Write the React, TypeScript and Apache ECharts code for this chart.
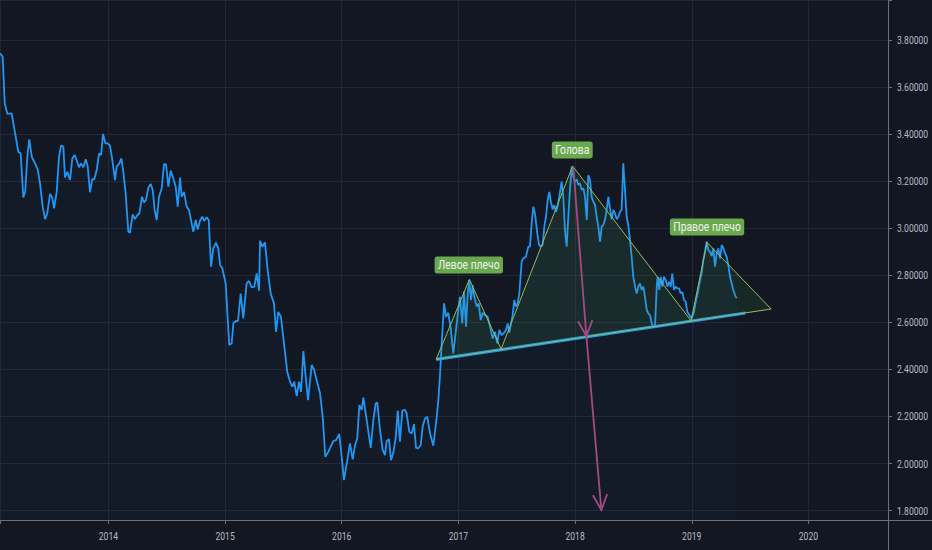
import React, { useEffect, useRef } from "react";
import * as echarts from "echarts";

// Weekly closing prices (decimal year, price)
const dates = [
  2013.071, 2013.094, 2013.111, 2013.134, 2013.171, 2013.2, 2013.228, 2013.248, 2013.271, 2013.288,
  2013.305, 2013.322, 2013.343, 2013.371, 2013.394, 2013.414, 2013.437, 2013.457, 2013.476, 2013.5,
  2013.519, 2013.534, 2013.557, 2013.577, 2013.594, 2013.614, 2013.628, 2013.648, 2013.671, 2013.691,
  2013.711, 2013.728, 2013.748, 2013.765, 2013.785, 2013.806, 2013.823, 2013.842, 2013.862, 2013.879,
  2013.9, 2013.92, 2013.937, 2013.954, 2013.974, 2013.994, 2014.014, 2014.034, 2014.057, 2014.071,
  2014.094, 2014.111, 2014.128, 2014.148, 2014.171, 2014.185, 2014.208, 2014.228, 2014.248, 2014.265,
  2014.288, 2014.305, 2014.322, 2014.342, 2014.363, 2014.38, 2014.397, 2014.414, 2014.434, 2014.457,
  2014.477, 2014.494, 2014.514, 2014.534, 2014.556, 2014.577, 2014.594, 2014.614, 2014.628, 2014.648,
  2014.671, 2014.691, 2014.711, 2014.728, 2014.748, 2014.765, 2014.785, 2014.805, 2014.822, 2014.843,
  2014.86, 2014.88, 2014.899, 2014.922, 2014.942, 2014.957, 2014.976, 2014.999, 2015.005, 2015.036,
  2015.057, 2015.071, 2015.094, 2015.111, 2015.134, 2015.156, 2015.185, 2015.205, 2015.228, 2015.251,
  2015.271, 2015.291, 2015.3, 2015.319, 2015.342, 2015.357, 2015.365, 2015.391, 2015.419, 2015.437,
  2015.456, 2015.479, 2015.505, 2015.533, 2015.557, 2015.576, 2015.593, 2015.614, 2015.634, 2015.651,
  2015.671, 2015.691, 2015.711, 2015.743, 2015.762, 2015.785, 2015.814, 2015.837, 2015.859, 2015.885,
  2015.905, 2015.928, 2015.951, 2015.979, 2016.0, 2016.019, 2016.043, 2016.071, 2016.094, 2016.114,
  2016.133, 2016.151, 2016.171, 2016.185, 2016.214, 2016.248, 2016.271, 2016.291, 2016.305, 2016.328,
  2016.351, 2016.371, 2016.385, 2016.405, 2016.422, 2016.442, 2016.463, 2016.48, 2016.499, 2016.519,
  2016.542, 2016.557, 2016.579, 2016.6, 2016.619, 2016.637, 2016.656, 2016.677, 2016.694, 2016.714,
  2016.733, 2016.757, 2016.785, 2016.814, 2016.828, 2016.842, 2016.857, 2016.877, 2016.894, 2016.913,
  2016.934, 2016.956, 2016.979, 2016.999, 2017.013, 2017.033, 2017.048, 2017.065, 2017.08, 2017.093,
  2017.108, 2017.122, 2017.136, 2017.157, 2017.174, 2017.191, 2017.208, 2017.228, 2017.251, 2017.271,
  2017.294, 2017.314, 2017.333, 2017.351, 2017.371, 2017.391, 2017.408, 2017.422, 2017.436, 2017.451,
  2017.465, 2017.479, 2017.493, 2017.508, 2017.522, 2017.542, 2017.556, 2017.579, 2017.599, 2017.613,
  2017.628, 2017.642, 2017.656, 2017.676, 2017.691, 2017.705, 2017.722, 2017.736, 2017.751, 2017.765,
  2017.779, 2017.793, 2017.808, 2017.822, 2017.836, 2017.851, 2017.871, 2017.885, 2017.899, 2017.913,
  2017.928, 2017.942, 2017.956, 2017.971, 2017.985, 2017.999, 2018.014, 2018.028, 2018.042, 2018.057,
  2018.071, 2018.085, 2018.1, 2018.113, 2018.128, 2018.142, 2018.156, 2018.171, 2018.185, 2018.199,
  2018.214, 2018.228, 2018.242, 2018.256, 2018.271, 2018.285, 2018.299, 2018.314, 2018.328, 2018.342,
  2018.357, 2018.371, 2018.385, 2018.399, 2018.413, 2018.428, 2018.442, 2018.456, 2018.471, 2018.485,
  2018.499, 2018.514, 2018.528, 2018.542, 2018.556, 2018.571, 2018.585, 2018.599, 2018.614, 2018.628,
  2018.642, 2018.657, 2018.671, 2018.685, 2018.7, 2018.708, 2018.722, 2018.734, 2018.748, 2018.762,
  2018.777, 2018.791, 2018.805, 2018.82, 2018.833, 2018.848, 2018.862, 2018.876, 2018.891, 2018.905,
  2018.919, 2018.934, 2018.948, 2018.962, 2018.979, 2018.999, 2019.019, 2019.037, 2019.056, 2019.071,
  2019.085, 2019.099, 2019.113, 2019.128, 2019.142, 2019.156, 2019.171, 2019.185, 2019.199, 2019.214,
  2019.228, 2019.242, 2019.257, 2019.271, 2019.285, 2019.299, 2019.313, 2019.328, 2019.342, 2019.356,
  2019.371, 2019.385,
];

const prices = [
  3.743, 3.729, 3.532, 3.486, 3.488, 3.405, 3.325, 3.318, 3.131, 3.16,
  3.304, 3.378, 3.304, 3.276, 3.25, 3.191, 3.092, 3.039, 3.063, 3.146,
  3.131, 3.085, 3.155, 3.304, 3.352, 3.347, 3.216, 3.24, 3.205, 3.297,
  3.311, 3.29, 3.259, 3.276, 3.259, 3.293, 3.262, 3.153, 3.209, 3.208,
  3.248, 3.318, 3.311, 3.401, 3.361, 3.361, 3.351, 3.29, 3.205, 3.262,
  3.276, 3.297, 3.24, 3.148, 2.985, 2.981, 3.059, 3.039, 3.056, 3.062,
  3.134, 3.11, 3.12, 3.172, 3.188, 3.163, 3.075, 3.035, 3.134, 3.17,
  3.273, 3.272, 3.177, 3.245, 3.212, 3.177, 3.092, 3.215, 3.134, 3.155,
  3.092, 3.078, 3.028, 2.985, 3.035, 2.995, 3.032, 3.049, 3.032, 3.047,
  3.035, 2.837, 2.915, 2.939, 2.915, 2.844, 2.83, 2.78, 2.766, 2.504,
  2.511, 2.596, 2.606, 2.607, 2.723, 2.617, 2.766, 2.776, 2.749, 2.752,
  2.808, 2.735, 2.947, 2.922, 2.94, 2.865, 2.823, 2.723, 2.681, 2.56,
  2.645, 2.624, 2.511, 2.39, 2.348, 2.327, 2.348, 2.287, 2.348, 2.305,
  2.478, 2.369, 2.27, 2.419, 2.4, 2.355, 2.298, 2.199, 2.029, 2.05,
  2.072, 2.096, 2.1, 2.126, 2.029, 1.93, 2.001, 2.086, 2.018, 2.079,
  2.107, 2.249, 2.228, 2.281, 2.185, 2.067, 2.185, 2.256, 2.26, 2.143,
  2.058, 2.036, 2.096, 2.104, 2.015, 2.046, 2.114, 2.225, 2.093, 2.225,
  2.228, 2.213, 2.135, 2.128, 2.168, 2.067, 2.065, 2.079, 2.16, 2.192,
  2.199, 2.128, 2.076, 2.199, 2.27, 2.376, 2.512, 2.681, 2.624, 2.641,
  2.575, 2.468, 2.567, 2.653, 2.709, 2.596, 2.73, 2.582, 2.723, 2.78,
  2.695, 2.759, 2.709, 2.667, 2.681, 2.61, 2.641, 2.631, 2.624, 2.582,
  2.532, 2.56, 2.511, 2.568, 2.546, 2.556, 2.568, 2.596, 2.556, 2.596,
  2.631, 2.695, 2.667, 2.681, 2.723, 2.858, 2.872, 2.879, 2.922, 2.922,
  3.021, 3.092, 3.063, 2.978, 2.929, 2.922, 2.929, 3.007, 3.049, 3.12,
  3.155, 3.113, 3.08, 3.099, 3.07, 3.095, 3.155, 3.198, 3.134, 2.993,
  2.922, 3.049, 3.163, 3.262, 3.219, 3.198, 3.208, 3.184, 3.191, 3.163,
  3.17, 3.134, 3.035, 3.226, 3.205, 3.134, 3.113, 3.099, 3.049, 3.007,
  2.943, 3.007, 3.014, 3.035, 3.078, 3.134, 3.085, 3.038, 3.078, 3.063,
  3.038, 3.049, 3.07, 3.078, 3.276, 3.163, 3.049, 3.014, 2.95, 2.879,
  2.794, 2.752, 2.723, 2.752, 2.766, 2.738, 2.752, 2.709, 2.653, 2.638,
  2.631, 2.596, 2.582, 2.582, 2.752, 2.794, 2.738, 2.794, 2.752, 2.794,
  2.78, 2.752, 2.773, 2.752, 2.808, 2.738, 2.752, 2.745, 2.745, 2.723,
  2.73, 2.695, 2.688, 2.645, 2.631, 2.617, 2.645, 2.695, 2.738, 2.78,
  2.808, 2.865, 2.9, 2.943, 2.908, 2.9, 2.882, 2.915, 2.837, 2.894,
  2.915, 2.872, 2.929, 2.915, 2.893, 2.879, 2.844, 2.794, 2.766, 2.738,
  2.716, 2.702,
];

// Axis tick labels
const yTicks = [1.8, 2.0, 2.2, 2.4, 2.6, 2.8, 3.0, 3.2, 3.4, 3.6, 3.8];
const xTicks = [2014, 2015, 2016, 2017, 2018, 2019, 2020];

// Head & shoulders pattern outline
const patternDates = [2016.809, 2017.094, 2017.366, 2017.979, 2018.994, 2019.131, 2019.68];
const patternValues = [2.443, 2.783, 2.487, 3.2645, 2.607, 2.94, 2.657];

// Neckline
const necklineDates = [2016.809, 2019.46];
const necklineValues = [2.443, 2.64];

// Target projection arrow
const arrowDates = [2017.985, 2018.097, 2018.225];
const arrowValues = [3.26, 2.542, 1.803];

// Pattern labels
const labelNames = ["Левое плечо", "Голова", "Правое плечо"];
const labelDates = [2017.089, 2017.976, 2019.131];
const labelValues = [2.844, 3.3325, 3.005];

const X_MIN = 2013.071;
const X_MAX = 2020.682;
const Y_MIN = 1.7605;
const Y_MAX = 3.97;

const FONT = "Roboto, 'Noto Sans', sans-serif";

export default function App() {
  const ref = useRef<HTMLDivElement>(null);

  useEffect(() => {
    document.body.style.margin = "0";
    document.body.style.background = "#131722";
    const chart = echarts.init(ref.current!, undefined, { renderer: "svg" });

    const axisColor = "#6c707b";
    const gridColor = "#232733";
    const labelColor = "#b8bbc3";

    const option: any = {
      animation: false,
      backgroundColor: "#131722",
      grid: { left: 0, right: 44, top: 0, bottom: 30, containLabel: false, outerBoundsMode: "none" },
      xAxis: {
        type: "value",
        min: X_MIN,
        max: X_MAX,
        splitNumber: 8,
        minInterval: 1,
        maxInterval: 1,
        axisLine: { show: true, onZero: false, lineStyle: { color: axisColor, width: 1 } },
        axisTick: { show: true, length: 4, lineStyle: { color: axisColor } },
        axisLabel: { show: false },
        splitLine: { show: true, lineStyle: { color: gridColor, width: 1 } },
      },
      yAxis: {
        type: "value",
        position: "right",
        min: Y_MIN,
        max: Y_MAX,
        splitNumber: 11,
        minInterval: 0.2,
        maxInterval: 0.2,
        axisLine: { show: true, lineStyle: { color: axisColor, width: 1 } },
        axisTick: { show: true, length: 4, lineStyle: { color: axisColor } },
        axisLabel: { show: false },
        splitLine: { show: true, lineStyle: { color: gridColor, width: 1 } },
      },
      graphic: [
        { type: "line", shape: { x1: 888.5, y1: 0, x2: 888.5, y2: 550 }, style: { stroke: axisColor, lineWidth: 1 }, z: 10 },
        { type: "line", shape: { x1: 888, y1: 520.5, x2: 932, y2: 520.5 }, style: { stroke: axisColor, lineWidth: 1 }, z: 10 },
      ],
      series: [
        {
          type: "line",
          data: dates.map((d, i) => [d, prices[i]]),
          showSymbol: false,
          symbol: "none",
          lineStyle: { color: "#2196f3", width: 1.8 },
          areaStyle: { color: "rgba(33,150,243,0.05)", origin: "start" },
          z: 3,
        },
        {
          type: "line",
          data: necklineDates.map((d, i) => [d, necklineValues[i]]),
          showSymbol: false,
          symbol: "none",
          lineStyle: { color: "#2196f3", width: 3.2 },
          z: 4,
        },
        {
          type: "custom",
          data: [[patternDates[0], patternValues[0]]],
          z: 5,
          clip: false,
          renderItem: (params: any, api: any) => {
            const pts = patternDates.map((d, i) => api.coord([d, patternValues[i]]));
            return {
              type: "polygon",
              shape: { points: pts },
              style: { fill: "rgba(90,175,80,0.11)", stroke: "#8fbf5a", lineWidth: 1 },
            };
          },
        },
        {
          type: "custom",
          data: [[arrowDates[0], arrowValues[0]]],
          z: 6,
          clip: false,
          renderItem: (params: any, api: any) => {
            const pts = arrowDates.map((d, i) => api.coord([d, arrowValues[i]]));
            const color = "#a54a80";
            const children: any[] = [
              { type: "polyline", shape: { points: pts }, style: { stroke: color, lineWidth: 1.8, fill: "none" } },
            ];
            const start = pts[0];
            const L = 17;
            const ang = (25 * Math.PI) / 180;
            for (let k = 1; k < pts.length; k++) {
              const tip = pts[k];
              let dx = start[0] - tip[0];
              let dy = start[1] - tip[1];
              const len = Math.sqrt(dx * dx + dy * dy);
              dx /= len;
              dy /= len;
              const a1 = [dx * Math.cos(ang) - dy * Math.sin(ang), dx * Math.sin(ang) + dy * Math.cos(ang)];
              const a2 = [dx * Math.cos(-ang) - dy * Math.sin(-ang), dx * Math.sin(-ang) + dy * Math.cos(-ang)];
              children.push({
                type: "polyline",
                shape: {
                  points: [
                    [tip[0] + a1[0] * L, tip[1] + a1[1] * L],
                    tip,
                    [tip[0] + a2[0] * L, tip[1] + a2[1] * L],
                  ],
                },
                style: { stroke: color, lineWidth: 1.8, fill: "none" },
              });
            }
            return { type: "group", children };
          },
        },
        {
          // pattern labels (green tags)
          type: "custom",
          z: 7,
          clip: false,
          data: labelNames.map((n, i) => [labelDates[i], labelValues[i]]),
          renderItem: (params: any, api: any) => {
            const p = api.coord([api.value(0), api.value(1)]);
            return {
              type: "text",
              x: p[0],
              y: p[1],
              scaleX: 0.86,
              style: {
                text: labelNames[params.dataIndex],
                fill: "#f2f5ee",
                font: "12px " + FONT,
                align: "center",
                verticalAlign: "middle",
                backgroundColor: "#6aa84f",
                borderRadius: 3,
                padding: [3, 4, 2, 4],
              },
            };
          },
        },
        {
          // price-scale labels on the right
          type: "custom",
          z: 8,
          clip: false,
          data: yTicks.map((v) => [X_MAX, v]),
          renderItem: (params: any, api: any) => {
            const v = api.value(1);
            const p = api.coord([X_MAX, v]);
            return {
              type: "text",
              x: p[0] + 9,
              y: p[1],
              scaleX: 0.78,
              style: {
                text: v.toFixed(5),
                fill: labelColor,
                font: "11px " + FONT,
                align: "left",
                verticalAlign: "middle",
              },
            };
          },
        },
        {
          // time-scale labels at the bottom
          type: "custom",
          z: 8,
          clip: false,
          data: xTicks.map((v) => [v, Y_MIN]),
          renderItem: (params: any, api: any) => {
            const v = api.value(0);
            const p = api.coord([v, Y_MIN]);
            return {
              type: "text",
              x: p[0],
              y: p[1] + 16.5,
              scaleX: 0.78,
              style: {
                text: String(v),
                fill: labelColor,
                font: "11px " + FONT,
                align: "center",
                verticalAlign: "middle",
              },
            };
          },
        },
      ],
    };

    chart.setOption(option);
    return () => chart.dispose();
  }, []);

  return (
    <div
      ref={ref}
      style={{ position: "absolute", left: 0, top: 0, width: 932, height: 550, background: "#131722" }}
    />
  );
}
